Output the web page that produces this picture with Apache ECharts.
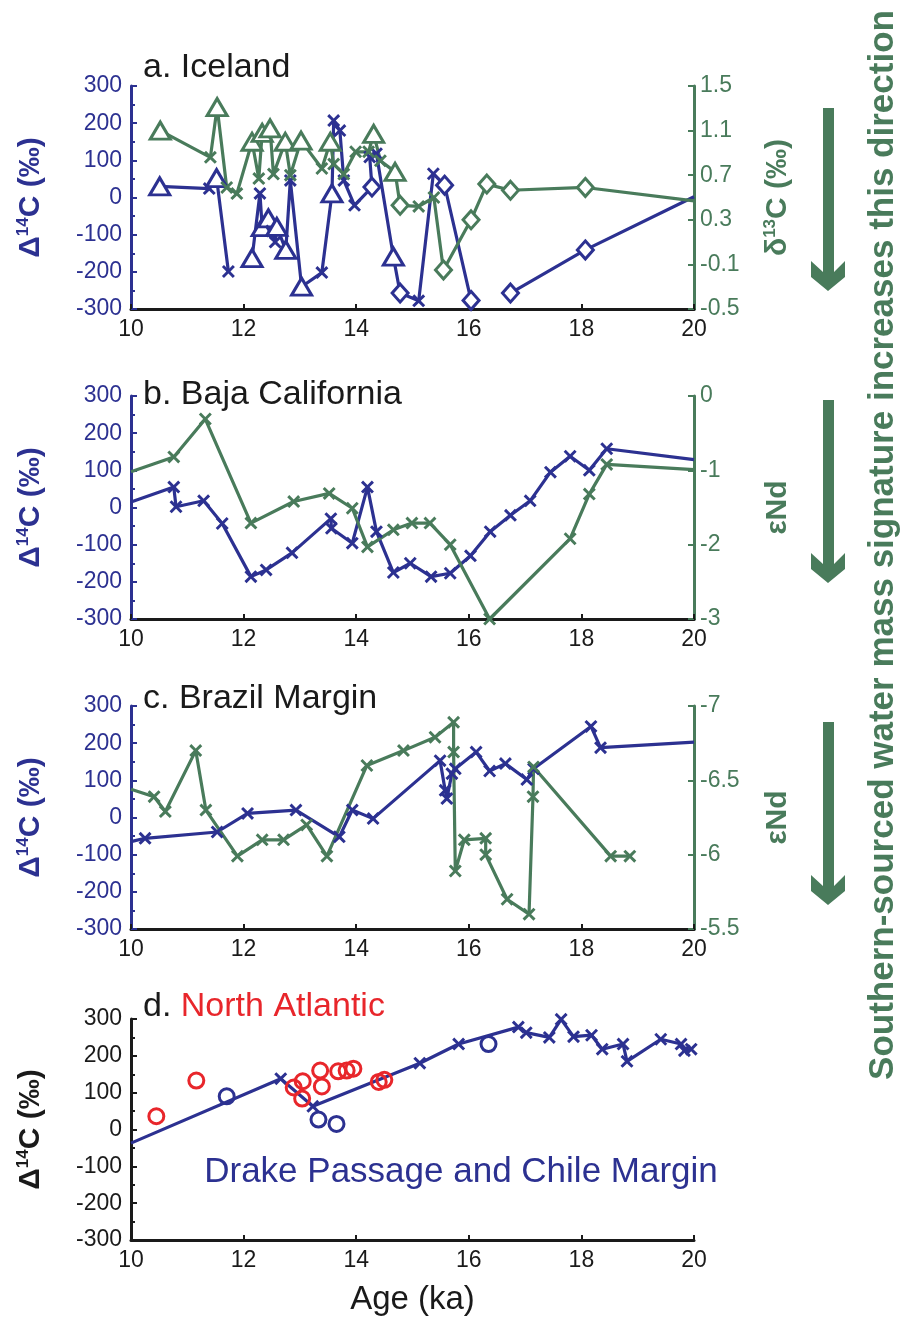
<!DOCTYPE html>
<html><head><meta charset="utf-8">
<script src="https://cdn.jsdelivr.net/npm/echarts@6/dist/echarts.min.js"></script>
<style>html,body{margin:0;padding:0;background:#fff}#c{width:902px;height:1318px}</style>
</head><body><div id="c"></div>
<script>
// ---------- DATA ----------
const xTicks = [10, 12, 14, 16, 18, 20];
// a. Iceland  [age ka, value, marker]  t=triangle x=cross d=diamond n=none
const iceD14C_1 = [[10.51,30,'t'],[11.39,24,'x'],[11.52,52,'t'],[11.73,-199,'x']];
const iceD14C_2 = [[12.15,-163,'t'],[12.29,11,'x'],[12.33,-80,'t'],[12.44,-56,'t'],[12.50,-90,'x'],[12.56,-120,'x'],[12.59,-79,'t'],[12.75,-141,'t'],[12.83,46,'x'],[13.03,-240,'t'],[13.39,-202,'x'],[13.57,11,'t'],[13.60,207,'x'],[13.71,180,'x'],[13.78,46,'x'],[13.97,-21,'x'],[14.28,28,'d'],[14.24,109,'x'],[14.36,118,'x'],[14.66,-159,'t'],[14.78,-257,'d'],[15.11,-278,'x'],[15.37,64,'x'],[15.57,33,'d'],[16.04,-277,'d']];
const iceD14C_3 = [[16.74,-257,'d'],[18.07,-141,'d'],[20,2,'n']];
const iceD13C = [[10.52,1.10,'t'],[11.41,0.86,'x'],[11.53,1.31,'t'],[11.70,0.59,'x'],[11.88,0.535,'x'],[12.15,1.0,'t'],[12.27,0.67,'x'],[12.33,1.08,'t'],[12.47,1.12,'t'],[12.53,0.71,'x'],[12.74,1.0,'t'],[12.83,0.70,'x'],[13.02,1.01,'t'],[13.39,0.76,'x'],[13.54,1.0,'t'],[13.60,0.80,'x'],[13.78,0.71,'x'],[13.99,0.91,'x'],[14.22,0.91,'x'],[14.31,1.07,'t'],[14.43,0.83,'x'],[14.69,0.73,'t'],[14.78,0.43,'d'],[15.11,0.42,'x'],[15.38,0.50,'x'],[15.55,-0.15,'d'],[16.04,0.30,'d'],[16.32,0.62,'d'],[16.74,0.565,'d'],[18.07,0.59,'d'],[20,0.47,'n']];
// b. Baja California
const bajaD14C = [[10,15,'n'],[10.76,55],[10.80,2],[11.29,18],[11.62,-43],[12.13,-186],[12.40,-168],[12.86,-122],[13.55,-30],[13.56,-56],[13.93,-96],[14.20,55],[14.36,-65],[14.66,-175],[14.96,-150],[15.33,-186],[15.67,-177],[16.03,-130],[16.38,-65],[16.74,-21],[17.09,18],[17.45,95],[17.80,138],[18.14,100],[18.45,158],[20,129,'n']];
const bajaNd = [[10,-1.02,'n'],[10.76,-0.82],[11.32,-0.31],[12.13,-1.71],[12.89,-1.42],[13.52,-1.31],[13.93,-1.51],[14.20,-2.03],[14.66,-1.80],[14.99,-1.71],[15.31,-1.71],[15.67,-2.0],[16.37,-3.0],[17.80,-1.92],[18.14,-1.32],[18.45,-0.92],[20,-0.99,'n']];
// c. Brazil Margin
const brazilD14C = [[10,-65,'n'],[10.25,-56],[11.53,-39],[12.07,11],[12.93,20],[13.70,-52],[13.93,20],[14.30,-3],[15.49,153],[15.58,73],[15.61,51],[15.70,118],[15.76,131],[16.13,176],[16.37,125],[16.65,145],[17.03,102],[17.15,131],[18.17,245],[18.34,188],[20,203,'n']];
const brazilNd = [[10,-6.44,'n'],[10.41,-6.39],[10.61,-6.29],[11.15,-6.70],[11.33,-6.30],[11.89,-5.99],[12.33,-6.10],[12.71,-6.10],[13.12,-6.20],[13.48,-5.99],[14.19,-6.60],[14.84,-6.70],[15.40,-6.79],[15.73,-6.89],[15.73,-6.69],[15.76,-5.89],[15.92,-6.10],[16.30,-6.11],[16.30,-6.0],[16.68,-5.70],[17.07,-5.60],[17.14,-6.39],[17.15,-6.59],[18.52,-5.99],[18.86,-5.99]];
// d. Drake Passage / Chile Margin and North Atlantic
const drakeLine = [[10,-37,'n'],[12.66,138],[13.23,63],[15.13,180],[15.82,232],[16.88,278],[17.02,263],[17.43,250],[17.64,299],[17.86,252],[18.18,256],[18.37,218],[18.74,232],[18.81,185],[19.41,245],[19.77,232],[19.83,214],[19.95,218]];
const drakeCircles = [[11.70,90],[13.33,27],[13.65,15],[16.35,232]];
const naCircles = [[10.45,36],[11.16,133],[12.89,114],[13.05,131],[13.04,84],[13.36,160],[13.39,117],[13.68,158],[13.83,160],[13.95,165],[14.40,129],[14.50,135]];

// ---------- STYLE ----------
const FONT = '"Liberation Sans", Arial, Helvetica, sans-serif';
const BLUE = '#2c3191', GREEN = '#497b5b', RED = '#e8262b', BLACK = '#1a1a1a';
const XPATH = 'path://M0,1.6L1.6,0L5,3.4L8.4,0L10,1.6L6.6,5L10,8.4L8.4,10L5,6.6L1.6,10L0,8.4L3.4,5Z';
const SYM = {t:'triangle', x:XPATH, d:'diamond', n:'none'};
const SIZE = {t:[20,17], x:13, d:[16,18], n:1};

function pts(arr, col) {
  return arr.map(p => {
    const m = p[2] || 'x';
    return {value:[p[0], p[1]], symbol: SYM[m], symbolSize: SIZE[m],
      itemStyle: m === 'x' ? {color: col, borderWidth: 0} : {color: '#fff', borderColor: col, borderWidth: 3}};
  });
}
function lineSeries(arr, col, xi, yi) {
  return {type:'line', xAxisIndex:xi, yAxisIndex:yi, data: pts(arr, col), showAllSymbol:true,
    lineStyle:{color:col, width:3.2}, itemStyle:{color:col}, z:3};
}
function nameRich(col) {
  return {color: col, rich: {
    b: {fontSize: 30, fontWeight: 'bold', color: col, fontFamily: FONT, lineHeight: 32},
    s: {fontSize: 17, fontWeight: 'bold', color: col, fontFamily: FONT, verticalAlign: 'top', lineHeight: 32}
  }};
}
function xAx(gi, showName) {
  return {type:'value', gridIndex:gi, min:10, max:20, interval:2,
    axisLine:{show:true, onZero:false, lineStyle:{color:BLACK, width:3}},
    axisTick:{show:true, inside:true, length:5, lineStyle:{color:BLACK, width:2}},
    splitLine:{show:false},
    axisLabel:{color:BLACK, fontSize:23, margin:9, fontFamily:FONT},
    name: showName ? 'Age (ka)' : '', nameLocation:'middle', nameGap:43,
    nameTextStyle:{color:BLACK, fontSize:33, fontFamily:FONT}};
}
function leftY(gi, col) {
  return {type:'value', gridIndex:gi, position:'left', min:-300, max:300, interval:100,
    axisLine:{show:true, onZero:false, lineStyle:{color:col, width:3}},
    axisTick:{show:true, inside:true, length:6, lineStyle:{color:col, width:2}},
    minorTick:{show:true, splitNumber:2, length:4, lineStyle:{color:col, width:2}},
    splitLine:{show:false}, minorSplitLine:{show:false},
    axisLabel:{color:col, fontSize:23, margin:9, fontFamily:FONT},
    name:'{b|Δ}{s|14}{b|C (‰)}', nameLocation:'middle', nameGap:84, nameRotate:90,
    nameTextStyle: nameRich(col)};
}
function rightY(gi, min, max, interval, inverse, name) {
  return {type:'value', gridIndex:gi, position:'right', min, max, interval, inverse,
    axisLine:{show:true, onZero:false, lineStyle:{color:GREEN, width:3}},
    axisTick:{show:true, inside:true, length:6, lineStyle:{color:GREEN, width:2}},
    splitLine:{show:false},
    axisLabel:{color:GREEN, fontSize:23, margin:6, fontFamily:FONT,
      formatter: v => String(Math.round(v * 10) / 10)},
    name, nameLocation:'middle', nameGap:68, nameRotate:90, nameTextStyle: nameRich(GREEN)};
}

function arrow(dy) {
  const p = [[823,108],[834,108],[834,272],[845,261],[845,277],[828,291],[811,277],[811,261],[823,272]];
  return {type:'polygon', shape:{points: p.map(q => [q[0], q[1] + dy])}, style:{fill:GREEN}, silent:true};
}
function label(text, x, y) {
  return {type:'text', x, y, style:{text, fill:BLACK, font:'34px ' + FONT, verticalAlign:'middle', align:'left'}, silent:true};
}

const option = {
  animation:false,
  backgroundColor:'#fff',
  textStyle:{fontFamily:FONT},
  grid:[
    {left:131, width:563, top:86, height:223},
    {left:131, width:563, top:396, height:223},
    {left:131, width:563, top:706, height:223},
    {left:131, width:563, top:1019, height:221}
  ],
  xAxis:[xAx(0,false), xAx(1,false), xAx(2,false), xAx(3,true)],
  yAxis:[
    leftY(0, BLUE), rightY(0, -0.5, 1.5, 0.4, false, '{b|δ}{s|13}{b|C (‰)}'),
    leftY(1, BLUE), rightY(1, -3, 0, 1, false, '{b|εNd}'),
    leftY(2, BLUE), rightY(2, -7, -5.5, 0.5, true, '{b|εNd}'),
    leftY(3, BLACK)
  ],
  series:[
    lineSeries(iceD14C_1, BLUE, 0, 0),
    lineSeries(iceD14C_2, BLUE, 0, 0),
    lineSeries(iceD14C_3, BLUE, 0, 0),
    lineSeries(iceD13C, GREEN, 0, 1),
    lineSeries(bajaD14C, BLUE, 1, 2),
    lineSeries(bajaNd, GREEN, 1, 3),
    lineSeries(brazilD14C, BLUE, 2, 4),
    lineSeries(brazilNd, GREEN, 2, 5),
    lineSeries(drakeLine, BLUE, 3, 6),
    {type:'scatter', xAxisIndex:3, yAxisIndex:6, data:drakeCircles, symbol:'circle', symbolSize:15,
      itemStyle:{color:'rgba(255,255,255,0)', borderColor:BLUE, borderWidth:3, opacity:1}, z:4},
    {type:'scatter', xAxisIndex:3, yAxisIndex:6, data:naCircles, symbol:'circle', symbolSize:15,
      itemStyle:{color:'rgba(255,255,255,0)', borderColor:RED, borderWidth:3, opacity:1}, z:5}
  ],
  graphic:[
    label('a. Iceland', 143, 68),
    label('b. Baja California', 143, 395),
    label('c. Brazil Margin', 143, 699),
    {type:'text', x:143, y:1007, silent:true, style:{text:'{k|d. }{r|North Atlantic}', verticalAlign:'middle', align:'left',
      rich:{k:{fill:BLACK, fontSize:34, fontFamily:FONT}, r:{fill:RED, fontSize:34, fontFamily:FONT}}}},
    {type:'text', x:461, y:1172, silent:true, style:{text:'Drake Passage and Chile Margin', fill:BLUE, font:'35px ' + FONT, align:'center', verticalAlign:'middle'}},
    arrow(0), arrow(292), arrow(614),
    {type:'text', x:883, y:545, rotation:Math.PI/2, silent:true,
      style:{text:'Southern-sourced water mass signature increases this direction', fill:GREEN,
        font:'bold 35px ' + FONT, align:'center', verticalAlign:'middle'}}
  ]
};
const chart = echarts.init(document.getElementById('c'), null, {renderer:'canvas'});
chart.setOption(option);
</script></body></html>
